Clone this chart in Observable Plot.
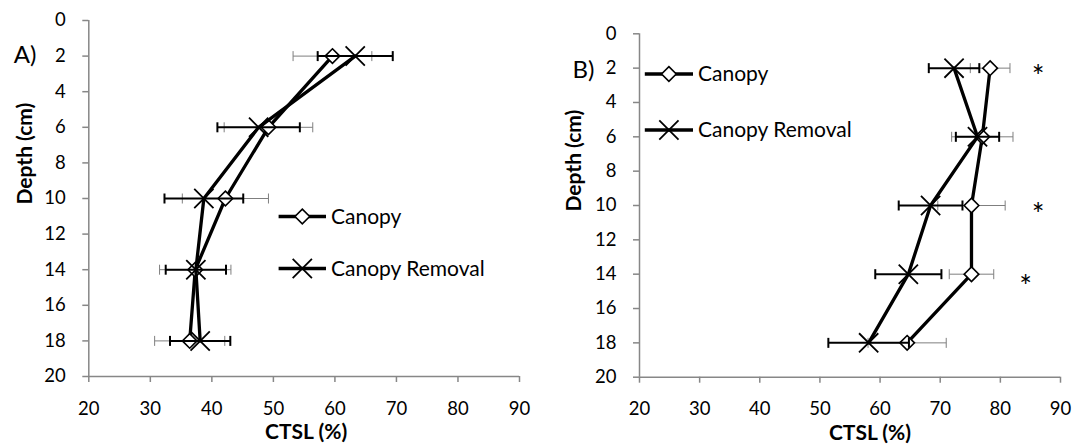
<!DOCTYPE html>
<html><head><meta charset="utf-8">
<script src="https://cdn.jsdelivr.net/npm/d3@7"></script>
<script src="https://cdn.jsdelivr.net/npm/@observablehq/plot@0.6"></script>
<style>
body{margin:0;background:#fff;font-family:Lato,sans-serif;}
#wrap{position:relative;width:1076px;height:446px;overflow:hidden;}
.panel{position:absolute;top:0;}
#overlay{position:absolute;left:0;top:0;}
</style></head><body><div id="wrap"></div>
<script>
// ---- data ----
const depths = [2, 6, 10, 14, 18];
const seriesNames = ["Canopy", "Canopy Removal"];
const canopyA = [59.6, 49.2, 42.2, 37.3, 36.4];
const canopyAErr = [6.4, 7.2, 7.0, 5.8, 5.7];
const removalA = [63.3, 47.6, 38.7, 37.4, 38.1];
const removalAErr = [6.1, 6.7, 6.4, 4.9, 4.9];
const canopyB = [78.3, 77.0, 75.2, 75.2, 64.5];
const canopyBErr = [3.3, 5.1, 5.6, 3.7, 6.5];
const removalB = [72.3, 76.2, 68.4, 64.7, 58.1];
const removalBErr = [4.2, 3.6, 5.3, 5.5, 6.7];
const sigDepthsB = [2, 10, 14.2];
const sigXB = [86.3, 86.3, 84.2];
const xTicks = [20, 30, 40, 50, 60, 70, 80, 90];
const yTicks = [0, 2, 4, 6, 8, 10, 12, 14, 16, 18, 20];
const xLabel = "CTSL (%)";
const yLabel = "Depth (cm)";

const axisGray = "#878787";
const errGray = "#7f7f7f";
const vline = {draw(ctx, size) { const h = Math.sqrt(size / Math.PI); ctx.moveTo(0, -h); ctx.lineTo(0, h); }};

function rows(vals, errs) { return depths.map((d, i) => ({depth: d, v: vals[i], e: errs[i]})); }

function panel(o) {
  const C = rows(o.canopy, o.canopyErr);
  const R = rows(o.removal, o.removalErr);
  const marks = [
    Plot.ruleX([20], {stroke: axisGray, strokeWidth: 1.5}),
    Plot.ruleY([20], {stroke: axisGray, strokeWidth: 1.5}),
    Plot.axisX({ticks: xTicks, tickSize: 6, tickPadding: 19, stroke: axisGray, strokeWidth: 1.5, color: "#000", label: null, fontSize: 18.5}),
    Plot.axisY({ticks: yTicks, tickSize: 6, tickPadding: 17, stroke: axisGray, strokeWidth: 1.5, color: "#000", label: null, fontSize: 18.5}),
    // canopy error bars (thin gray)
    Plot.link(C, {x1: d => d.v - d.e, x2: d => d.v + d.e, y1: "depth", y2: "depth", stroke: errGray, strokeWidth: 1}),
    Plot.dot(C, {x: d => d.v - d.e, y: "depth", symbol: vline, r: 5, fill: "none", stroke: errGray, strokeWidth: 1}),
    Plot.dot(C, {x: d => d.v + d.e, y: "depth", symbol: vline, r: 5, fill: "none", stroke: errGray, strokeWidth: 1}),
    // canopy series
    Plot.line(C, {x: "v", y: "depth", stroke: "#000", strokeWidth: 3.3}),
    Plot.dot(C, {x: "v", y: "depth", symbol: "diamond2", r: 6.6, fill: "#fff", stroke: "#000", strokeWidth: 1.6}),
    // removal error bars (black)
    Plot.link(R, {x1: d => d.v - d.e, x2: d => d.v + d.e, y1: "depth", y2: "depth", stroke: "#000", strokeWidth: 2}),
    Plot.dot(R, {x: d => d.v - d.e, y: "depth", symbol: vline, r: 5, fill: "none", stroke: "#000", strokeWidth: 2}),
    Plot.dot(R, {x: d => d.v + d.e, y: "depth", symbol: vline, r: 5, fill: "none", stroke: "#000", strokeWidth: 2}),
    // removal series
    Plot.line(R, {x: "v", y: "depth", stroke: "#000", strokeWidth: 3.3}),
    Plot.dot(R, {x: "v", y: "depth", symbol: "times", r: 8.8, stroke: "#000", strokeWidth: 1.8}),
    // titles
    Plot.text([xLabel], {text: d => d, frameAnchor: "bottom", dx: o.xLabelDx, dy: 56, fontWeight: "bold", fontSize: 21, lineAnchor: "middle"}),
    Plot.text([yLabel], {text: d => d, frameAnchor: "left", rotate: -90, dx: o.yLabelDx, dy: 6, fontWeight: "bold", fontSize: 21, lineAnchor: "middle"}),
    Plot.text([o.letter], {text: d => d, frameAnchor: "top-left", dx: o.letterDx, dy: o.letterDy, fontSize: 24, textAnchor: "start", lineAnchor: "middle"})
  ];
  if (o.sig) {
    const S = o.sig.depths.map((d, i) => ({depth: d, x: o.sig.x[i]}));
    marks.push(Plot.text(S, {x: "x", y: "depth", text: () => "*", fontSize: 30, dy: 9.5}));
  }
  return Plot.plot({
    width: 538, height: 446,
    marginLeft: o.ml, marginRight: o.mr, marginTop: o.mt, marginBottom: o.mb,
    style: {fontFamily: "Lato, sans-serif", fontSize: "18.5px", color: "#000", background: "transparent", overflow: "visible"},
    x: {domain: [20, 90], label: null},
    y: {domain: [0, 20], reverse: true, label: null},
    marks
  });
}

const wrap = document.getElementById("wrap");
const pA = panel({canopy: canopyA, canopyErr: canopyAErr, removal: removalA, removalErr: removalAErr,
  ml: 88.3, mr: 19, mt: 20, mb: 70, letter: "A)", letterDx: -75, letterDy: 35, xLabelDx: 2, yLabelDx: -64});
pA.classList.add("panel"); pA.style.left = "0px";
const pB = panel({canopy: canopyB, canopyErr: canopyBErr, removal: removalB, removalErr: removalBErr,
  ml: 101, mr: 16, mt: 33.3, mb: 69.3, letter: "B)", letterDx: -67, letterDy: 36.5, xLabelDx: 20, yLabelDx: -65,
  sig: {depths: sigDepthsB, x: sigXB}});
pB.classList.add("panel"); pB.style.left = "538px";
wrap.appendChild(pA); wrap.appendChild(pB);

// ---- legends (overlay) ----
const svg = d3.select(wrap).append("svg").attr("id", "overlay").attr("width", 1076).attr("height", 446)
  .style("font-family", "Lato, sans-serif");
const legendPlaces = [
  {x0: 278.6, x1: 326, y: [216.5, 268.5]},
  {x0: 644.8, x1: 693, y: [74, 130]}
];
const symbols = [
  {sym: d3.symbolDiamond2, r: 6.6, fill: "#fff", sw: 1.6},
  {sym: d3.symbolTimes, r: 8.8, fill: "none", sw: 1.8}
];
legendPlaces.forEach(p => {
  seriesNames.forEach((name, i) => {
    const g = svg.append("g");
    const y = p.y[i], xm = (p.x0 + p.x1) / 2;
    g.append("line").attr("x1", p.x0).attr("x2", p.x1).attr("y1", y).attr("y2", y)
      .attr("stroke", "#000").attr("stroke-width", 3.3);
    const s = symbols[i];
    g.append("path").attr("d", d3.symbol(s.sym, Math.PI * s.r * s.r)())
      .attr("transform", `translate(${xm},${y})`).attr("fill", s.fill).attr("stroke", "#000").attr("stroke-width", s.sw);
    g.append("text").attr("x", p.x1 + 5).attr("y", y).attr("dy", "0.35em").attr("font-size", 21).text(name);
  });
});
</script></body></html>
